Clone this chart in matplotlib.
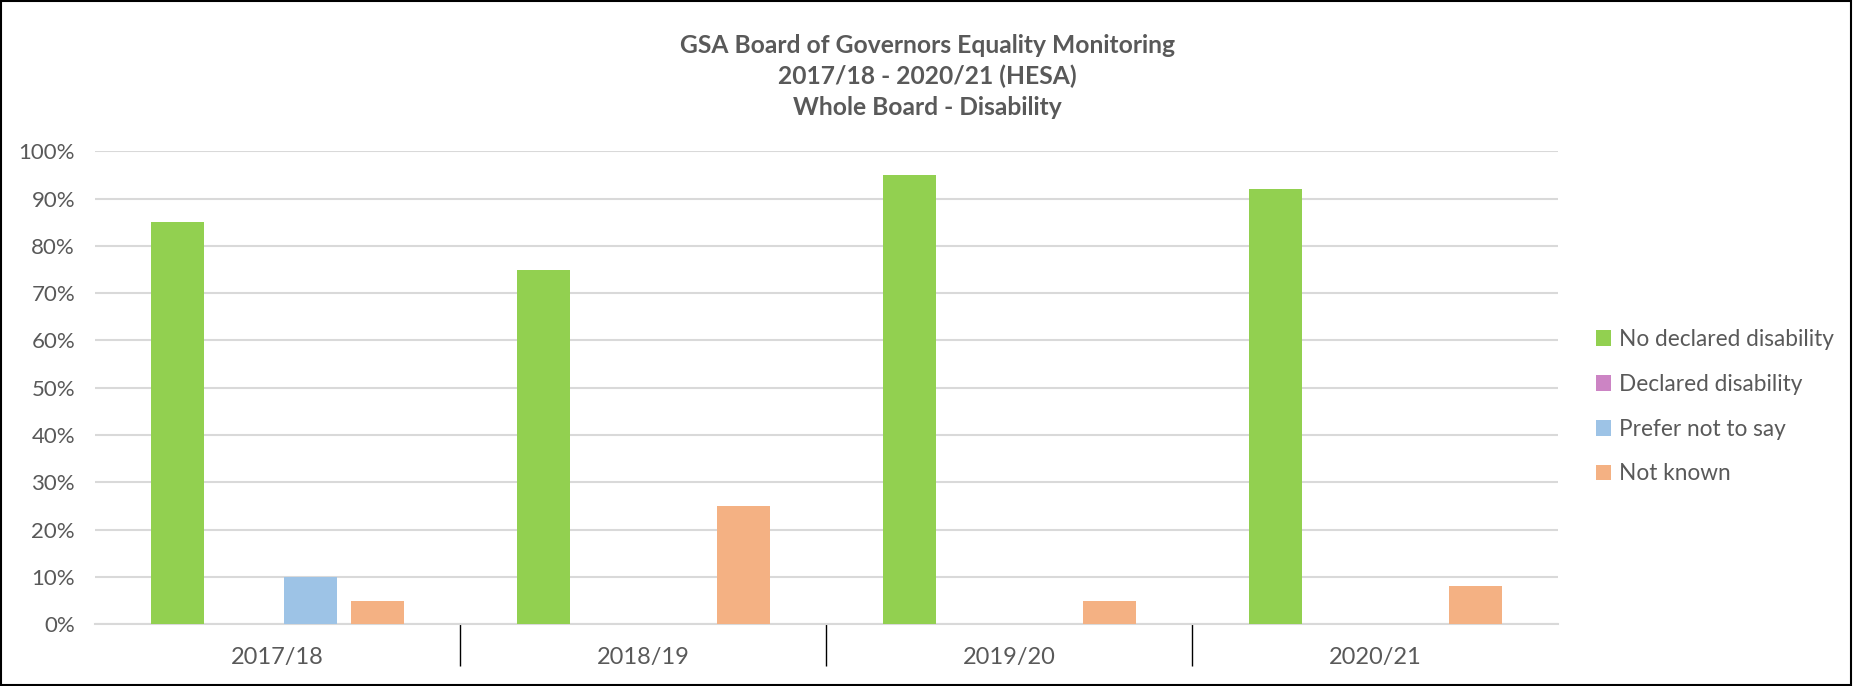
import matplotlib
matplotlib.use('Agg')
import matplotlib.pyplot as plt
import numpy as np
from matplotlib.patches import Rectangle
from matplotlib.ticker import FuncFormatter, MultipleLocator, FixedLocator

plt.rcParams['font.family'] = ['Lato', 'DejaVu Sans']

# data
years = ['2017/18', '2018/19', '2019/20', '2020/21']
series = ['No declared disability', 'Declared disability', 'Prefer not to say', 'Not known']
no_declared = [85, 75, 95, 92]
declared = [0, 0, 0, 0]
prefer_not = [10, 0, 0, 0]
not_known = [5, 25, 5, 8]
colours = ['#92D050', '#CC84C4', '#9DC3E6', '#F4B183']

title = ('GSA Board of Governors Equality Monitoring\n'
         '2017/18 - 2020/21 (HESA)\n'
         'Whole Board - Disability')

TEXT = '#595959'
GRID = '#D9D9D9'

fig = plt.figure(figsize=(18.54, 6.86), dpi=100)
ax = fig.add_axes([0.051, 0.0899, 0.7895, 0.6896])

x = np.arange(len(years))
width = 0.145
step = 0.1817
values = [no_declared, declared, prefer_not, not_known]
handles = []
for i, (vals, col, name) in enumerate(zip(values, colours, series)):
    h = ax.bar(x + (i - 1.5) * step, np.array(vals) / 100.0, width,
               color=col, label=name, zorder=3)
    handles.append(h)

ax.set_xlim(-0.5, len(years) - 0.5)
ax.set_ylim(0, 1.0)
ax.yaxis.set_major_locator(MultipleLocator(0.1))
ax.yaxis.set_major_formatter(FuncFormatter(lambda v, p: '{:.0f}%'.format(v * 100)))
ax.grid(axis='y', color=GRID, linewidth=1.5, zorder=0)

for s in ['top', 'right', 'left']:
    ax.spines[s].set_visible(False)
ax.spines['bottom'].set_color(GRID)
ax.spines['bottom'].set_linewidth(1.5)

ax.set_xticks(x)
ax.set_xticklabels(years)
ax.xaxis.set_minor_locator(FixedLocator([0.5, 1.5, 2.5]))
ax.tick_params(axis='x', which='major', length=0, pad=16, labelsize=17, labelcolor=TEXT)
ax.tick_params(axis='x', which='minor', length=30, width=1, color='black', direction='out')
ax.tick_params(axis='y', length=0, pad=14, labelsize=16, labelcolor=TEXT)

fig.text(0.5, 0.889, title, ha='center', va='center', fontsize=17.7,
         fontweight='bold', color=TEXT, linespacing=1.4)

fig.legend(handles=handles, loc='center left', bbox_to_anchor=(0.8496, 0.407),
           frameon=False, fontsize=16.3, labelcolor=TEXT, handlelength=0.7,
           handleheight=0.7, handletextpad=0.35, labelspacing=1.05)

# outer chart border
fig.patches.append(Rectangle((0.0005, 0.002), 0.998, 0.996, transform=fig.transFigure,
                             fill=False, edgecolor='black', linewidth=1.5))

fig.savefig('out.png', dpi=100)
